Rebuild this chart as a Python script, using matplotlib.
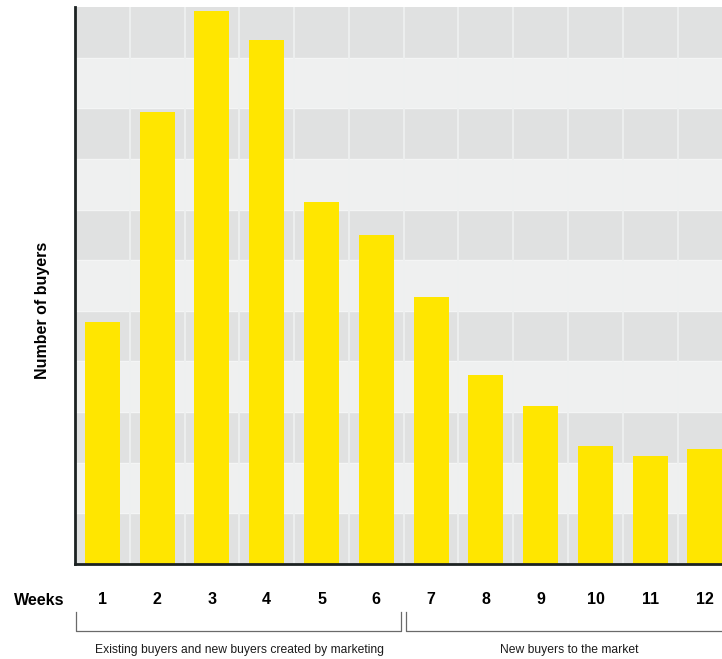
import matplotlib
matplotlib.use('Agg')
import matplotlib.pyplot as plt
import matplotlib.transforms as mtransforms

# data
weeks = [1, 2, 3, 4, 5, 6, 7, 8, 9, 10, 11, 12]
buyers = [4.77, 8.92, 10.93, 10.34, 7.14, 6.49, 5.27, 3.73, 3.12, 2.33, 2.13, 2.27]
group_labels = ["Existing buyers and new buyers created by marketing",
                "New buyers to the market"]
group_spans = [(0.52, 6.45), (6.54, 12.6)]
group_label_x = [3.5, 9.53]

plt.rcParams['font.family'] = ['Liberation Sans Narrow', 'Liberation Sans', 'DejaVu Sans']

fig = plt.figure(figsize=(7.22, 6.59), dpi=100)
ax = fig.add_axes([75 / 722, 95 / 659, 1 - 75 / 722, 557 / 659])

# striped background
n_bands = 11
for i in range(n_bands):
    col = '#e0e1e1' if i % 2 == 0 else '#eff0f0'
    ax.axhspan(i, i + 1, color=col, lw=0, zorder=0)
    ax.axhline(i, color='#f4f5f5', lw=1, zorder=0.5)
for k in range(1, 13):
    ax.axvline(k + 0.5, color='#eef0f0', lw=1.3, zorder=0.6)

ax.bar(weeks, buyers, width=0.64, color='#ffe600', zorder=2)

ax.set_xlim(0.5, 12.31)
ax.set_ylim(0, n_bands)
ax.set_yticks([])
ax.set_xticks(weeks)
ax.set_xticklabels([str(w) for w in weeks], fontsize=11.5, fontweight='bold')
ax.tick_params(axis='x', length=0, pad=20)

for s in ['top', 'right']:
    ax.spines[s].set_visible(False)
for s in ['left', 'bottom']:
    ax.spines[s].set_color('#1c2222')
    ax.spines[s].set_linewidth(2)

ax.set_ylabel("Number of buyers", fontsize=11.5, fontweight='bold')
ax.yaxis.set_label_coords(-0.0385, 0.456)
ax.text(-0.055, -0.065, "Weeks", transform=ax.transAxes, fontsize=11.5,
        fontweight='bold', ha='center', va='center')

# group brackets under the axis
tr = mtransforms.blended_transform_factory(ax.transData, ax.transAxes)
y_top, y_bot = -0.086, -0.120
for (x0, x1), lab, lx in zip(group_spans, group_labels, group_label_x):
    ax.plot([x0, x0, x1, x1], [y_top, y_bot, y_bot, y_top], transform=tr,
            color='#6a6a6a', lw=0.9, clip_on=False)
    ax.text(lx, -0.154, lab, transform=tr, fontsize=8.7,
            ha='center', va='center', color='#1c1c1c')

fig.savefig('out.png', dpi=100)
